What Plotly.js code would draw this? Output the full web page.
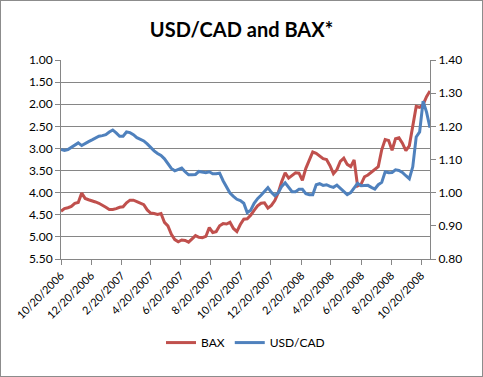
<!DOCTYPE html>
<html>
<head>
<meta charset="utf-8">
<script src="https://cdn.plot.ly/plotly-3.0.1.min.js"></script>
<style>
html,body{margin:0;padding:0;background:#fff;}
#chart{width:483px;height:377px;box-sizing:border-box;border:1px solid #8c8c8c;}
</style>
</head>
<body>
<div id="chart"></div>
<script>
// Weekly observations (Fridays) starting 2006-10-20
const startDate = '2006-10-20';
const numWeeks = 108;

const bax = [
  4.42, 4.36, 4.34, 4.31, 4.24, 4.22, 4.01, 4.13, 4.16, 4.18,
  4.21, 4.24, 4.28, 4.33, 4.38, 4.38, 4.36, 4.33, 4.32, 4.23,
  4.17, 4.17, 4.20, 4.24, 4.27, 4.39, 4.46, 4.47, 4.49, 4.47,
  4.67, 4.75, 4.94, 5.06, 5.11, 5.07, 5.08, 5.12, 5.04, 4.97,
  5.01, 5.02, 4.99, 4.79, 4.90, 4.88, 4.75, 4.70, 4.71, 4.67,
  4.81, 4.88, 4.72, 4.60, 4.59, 4.51, 4.40, 4.30, 4.24, 4.23,
  4.35, 4.29, 4.18, 4.00, 3.75, 3.55, 3.67, 3.60, 3.55, 3.56,
  3.72, 3.45, 3.28, 3.08, 3.11, 3.16, 3.23, 3.25, 3.39, 3.57,
  3.48, 3.29, 3.22, 3.36, 3.41, 3.26, 3.85, 3.81, 3.64, 3.60,
  3.54, 3.48, 3.41, 3.03, 2.80, 2.82, 3.04, 2.78, 2.76, 2.88,
  3.05, 2.94, 2.45, 2.05, 2.07, 2.01, 1.83, 1.70
];

const usdcad = [
  1.130, 1.127, 1.130, 1.136, 1.144, 1.150, 1.142, 1.149, 1.154, 1.159,
  1.164, 1.170, 1.172, 1.175, 1.183, 1.189, 1.180, 1.170, 1.170, 1.183,
  1.181, 1.175, 1.166, 1.162, 1.156, 1.147, 1.136, 1.126, 1.118, 1.112,
  1.102, 1.088, 1.073, 1.066, 1.069, 1.074, 1.063, 1.054, 1.054, 1.055,
  1.064, 1.063, 1.060, 1.063, 1.057, 1.057, 1.059, 1.036, 1.016, 0.999,
  0.989, 0.980, 0.976, 0.968, 0.940, 0.947, 0.968, 0.982, 0.992, 1.003,
  1.015, 1.001, 0.991, 1.000, 1.019, 1.030, 1.016, 1.003, 1.003, 1.010,
  1.010, 0.997, 0.994, 0.994, 1.024, 1.027, 1.022, 1.024, 1.019, 1.016,
  1.023, 1.014, 1.003, 0.994, 1.000, 1.015, 1.028, 1.021, 1.022, 1.022,
  1.016, 1.011, 1.024, 1.031, 1.063, 1.060, 1.061, 1.069, 1.067, 1.061,
  1.051, 1.042, 1.078, 1.168, 1.183, 1.276, 1.243, 1.196
];

const tickDates = [
  '2006-10-20', '2006-12-20', '2007-02-20', '2007-04-20', '2007-06-20',
  '2007-08-20', '2007-10-20', '2007-12-20', '2008-02-20', '2008-04-20',
  '2008-06-20', '2008-08-20', '2008-10-20'
];
const tickLabels = [
  '10/20/2006', '12/20/2006', '2/20/2007', '4/20/2007', '6/20/2007',
  '8/20/2007', '10/20/2007', '12/20/2007', '2/20/2008', '4/20/2008',
  '6/20/2008', '8/20/2008', '10/20/2008'
];
const leftTicks = [1.0, 1.5, 2.0, 2.5, 3.0, 3.5, 4.0, 4.5, 5.0, 5.5];
const rightTicks = [0.8, 0.9, 1.0, 1.1, 1.2, 1.3, 1.4];

// Build weekly date strings
const dates = [];
{
  const d0 = new Date(startDate + 'T00:00:00Z');
  for (let i = 0; i < numWeeks; i++) {
    const d = new Date(d0.getTime() + i * 7 * 86400000);
    dates.push(d.toISOString().slice(0, 10));
  }
}

const font = "Lato, 'Open Sans', sans-serif";

const traces = [
  {
    x: dates, y: bax, name: 'BAX', type: 'scatter', mode: 'lines',
    line: {color: '#C0504D', width: 3}, yaxis: 'y'
  },
  {
    x: dates, y: usdcad, name: 'USD/CAD', type: 'scatter', mode: 'lines',
    line: {color: '#4F81BD', width: 3}, yaxis: 'y2'
  }
];

const layout = {
  width: 481, height: 375,
  margin: {l: 60, r: 52, t: 59, b: 117},
  paper_bgcolor: '#fff', plot_bgcolor: '#fff',
  font: {family: font, size: 12, color: '#000'},
  title: {
    text: '<b>USD/CAD and BAX*</b>',
    font: {family: font, size: 20, color: '#000'},
    x: 0.5, xanchor: 'center', y: 0.922, yanchor: 'middle'
  },
  showlegend: true,
  legend: {
    orientation: 'h', x: 0.5, xanchor: 'center', y: -0.42, yanchor: 'middle',
    font: {family: font, size: 12, color: '#000'},
    itemwidth: 30, bgcolor: 'rgba(0,0,0,0)'
  },
  xaxis: {
    type: 'date',
    range: [dates[0], dates[dates.length - 1]],
    tickvals: tickDates, ticktext: tickLabels,
    tickangle: -45,
    showgrid: false, zeroline: false,
    showline: true, linecolor: '#868686', linewidth: 1,
    ticks: 'outside', ticklen: 5, tickcolor: '#868686',
    tickfont: {family: font, size: 11, color: '#000'}
  },
  yaxis: {
    range: [5.5, 1.0],
    tickvals: leftTicks, tickformat: '.2f',
    showgrid: true, gridcolor: '#868686', gridwidth: 1,
    zeroline: false,
    showline: true, linecolor: '#868686', linewidth: 1,
    ticks: 'outside', ticklen: 5, tickcolor: '#868686',
    tickfont: {family: font, size: 12, color: '#000'}
  },
  yaxis2: {
    range: [0.8, 1.4], overlaying: 'y', side: 'right',
    tickvals: rightTicks, tickformat: '.2f',
    showgrid: false, zeroline: false,
    showline: true, linecolor: '#868686', linewidth: 1,
    ticks: 'outside', ticklen: 5, tickcolor: '#868686',
    tickfont: {family: font, size: 12, color: '#000'}
  }
};

Plotly.newPlot('chart', traces, layout, {displayModeBar: false, staticPlot: true});
</script>
</body>
</html>
